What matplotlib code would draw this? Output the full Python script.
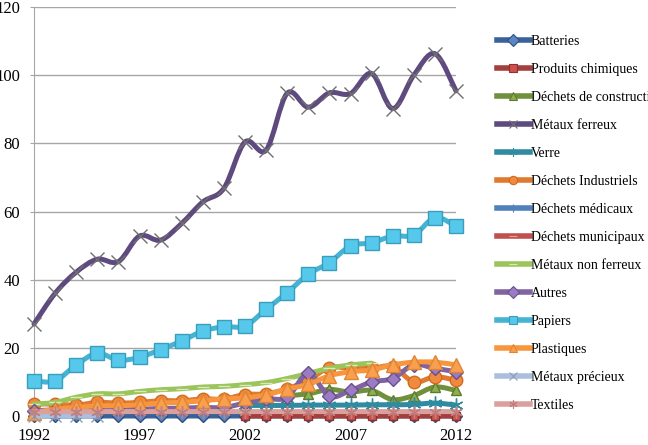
import numpy as np
import matplotlib.pyplot as plt
from matplotlib.path import Path
from matplotlib.patches import PathPatch
from matplotlib.lines import Line2D

plt.rcParams['font.family'] = ['Liberation Serif', 'DejaVu Serif']

years = [1992, 1993, 1994, 1995, 1996, 1997, 1998, 1999, 2000, 2001, 2002,
         2003, 2004, 2005, 2006, 2007, 2008, 2009, 2010, 2011, 2012]
N = None

batteries = [0, 0, 0, 0, 0, 0, 0, 0, 0, 0, 0, 0, 0, 0, 0, 0, 0, 0, 0, 0, 0]
produits_chimiques = [N, N, N, N, N, N, N, N, N, N, 0, 0, 0, 0, 0, 0, 0, 0, 0, 0, 0]
dechets_construction = [N, N, N, N, N, N, N, N, N, N, N, N, 6, 6.5, 7.8, 7, 7.5, 4.8, 6, 8.5, 7.5]
metaux_ferreux = [27, 36, 42.2, 46, 45.3, 52.8, 51.6, 56.5, 62.8, 66.8, 80.4,
                  78, 94.7, 90.6, 94.8, 94.6, 100.5, 90.2, 100, 106.3, 95.4]
verre = [N, N, N, N, N, N, N, N, N, N, 3.1, 3.1, 3.1, 3.2, 3.2, 3.2, 3.3, 3.3, 3.4, 3.8, 3.2]
dechets_industriels = [3.5, 3.5, 3.2, 4, 3.8, 4, 4.5, 4.5, 5, 5, 6.3,
                       6.5, 8, 10.5, 14.2, 14, 14, 14.5, 10, 11.5, 10.5]
dechets_medicaux = [N] * 21
dechets_municipaux = [N] * 21
metaux_non_ferreux = [3.5, 4, 5.5, 6.5, 6.5, 7.2, 7.7, 8, 8.5, 8.7, 9.2,
                      9.8, 11, 12.5, 14, 15, 15.5, N, N, N, N]
autres = [1.5, 1.8, 1.8, 2, 2, 2, 2.2, 2.3, 2.5, 2.5, 3.8,
          5, 5.5, 12.5, 5.8, 7.5, 10, 11, 15, 14, 13]
papiers = [10.3, 10.3, 15, 18.4, 16.4, 17.2, 19.5, 22, 24.9, 26.2, 26.4,
           31.3, 36.2, 41.6, 45, 49.9, 50.8, 52.8, 53.1, 58.2, 55.7]
plastiques = [1, 2, 2.5, 3, 3, 3.3, 3.8, 4, 4.5, 5, 5.3,
              6.2, 7.9, 9.3, 11.8, 13, 13.5, 15, 15.8, 15.8, 15]
metaux_precieux = [0, 0, 0, 0, N, N, N, N, N, N, N, N, N, N, N, N, N, N, N, N, N]
textiles = [1.3, 1.3, 1.3, 1.3, 1.3, 1.3, 1.3, 1.3, 1.3, 1.3, 1.3,
            1.3, 1.3, 1.3, 1.3, 1.3, 1.3, 1.3, 1.3, 1.3, 1.3]

labels = ['Batteries', 'Produits chimiques', 'Déchets de construction', 'Métaux ferreux',
          'Verre', 'Déchets Industriels', 'Déchets médicaux', 'Déchets municipaux',
          'Métaux non ferreux', 'Autres', 'Papiers', 'Plastiques', 'Métaux précieux', 'Textiles']
series = [batteries, produits_chimiques, dechets_construction, metaux_ferreux, verre,
          dechets_industriels, dechets_medicaux, dechets_municipaux, metaux_non_ferreux,
          autres, papiers, plastiques, metaux_precieux, textiles]

asterisk = (6, 2, 0)
# (line colour, marker, marker face, marker edge, marker size)
styles = [
    ('#3A6299', 'D', '#5B86C4', '#2E4F7E', 6),
    ('#A33F3C', 's', '#D0504D', '#8C3331', 6),
    ('#71903C', '^', '#8DB04C', '#5E7A30', 7),
    ('#5E4A7E', 'x', 'none', '#6F6F6F', 10),
    ('#2E8BA0', asterisk, 'none', '#2E8BA0', 10),
    ('#E07A2E', 'o', '#F08A3E', '#D06A20', 9),
    ('#4F81BD', '+', 'none', '#4F81BD', 8),
    ('#C0504D', '_', 'none', '#E8A09E', 8),
    ('#9BC45A', '_', 'none', '#D6EBB8', 8),
    ('#8064A2', 'D', '#9A7CC4', '#6A4F8A', 7),
    ('#45B3D3', 's', '#55C8EC', '#3A9DBB', 10),
    ('#F7963F', '^', '#F9A050', '#E08530', 10),
    ('#A9BFDD', 'x', 'none', '#8A9EBE', 8),
    ('#D9A09E', asterisk, 'none', '#C07E7C', 9),
]


def smooth_path(xs, ys):
    verts, codes = [], []
    seg = []
    runs = []
    for p in zip(xs, ys):
        if p[1] is None:
            if seg:
                runs.append(seg)
            seg = []
        else:
            seg.append(p)
    if seg:
        runs.append(seg)
    for run in runs:
        P = np.array(run, dtype=float)
        verts.append(tuple(P[0]))
        codes.append(Path.MOVETO)
        n = len(P)
        for i in range(n - 1):
            p0 = P[i - 1] if i > 0 else P[i]
            p1, p2 = P[i], P[i + 1]
            p3 = P[i + 2] if i + 2 < n else P[i + 1]
            c1 = p1 + (p2 - p0) / 6.0
            c2 = p2 - (p3 - p1) / 6.0
            verts += [tuple(c1), tuple(c2), tuple(p2)]
            codes += [Path.CURVE4] * 3
    if not verts:
        return None
    return Path(verts, codes)


fig = plt.figure(figsize=(6.48, 4.45), dpi=100)
ax = fig.add_axes([34 / 648, 29 / 445, 422 / 648, 409 / 445])

handles = []
for k, (vals, lab, st) in enumerate(zip(series, labels, styles)):
    col, mk, mfc, mec, ms = st
    path = smooth_path(years, vals)
    z = 3 + k
    if path is not None:
        ax.add_patch(PathPatch(path, facecolor='none', edgecolor=col, lw=3.6,
                               capstyle='round', joinstyle='round', zorder=z, clip_on=False))
        yv = [np.nan if v is None else v for v in vals]
        ax.plot(years, yv, linestyle='none', marker=mk, markersize=ms,
                markerfacecolor=mfc, markeredgecolor=mec, markeredgewidth=1.0,
                zorder=z + 0.5, clip_on=False)
    handles.append(Line2D([], [], color=col, lw=4, marker=mk, markersize=6,
                          markerfacecolor=mfc, markeredgecolor=mec, markeredgewidth=0.8))

ax.set_xlim(1992, 2012)
ax.set_ylim(0, 120)
ax.set_yticks([0, 20, 40, 60, 80, 100, 120])
ax.set_xticks([1992, 1997, 2002, 2007, 2012])
ax.yaxis.grid(True, color='#A6A6A6', lw=1.0)
ax.set_axisbelow(True)
for s in ['top', 'right', 'bottom']:
    ax.spines[s].set_visible(False)
ax.spines['left'].set_color('#A6A6A6')
ax.tick_params(axis='y', length=3, color='#A6A6A6', labelsize=12, pad=7)
ax.tick_params(axis='x', length=0, labelsize=12, pad=9)

fig.legend(handles, labels, loc='upper left', bbox_to_anchor=(497 / 648, 1 - 35 / 445),
           frameon=False, fontsize=10, handlelength=2.37, handletextpad=0.07,
           labelspacing=1.08, borderpad=0, borderaxespad=0)

fig.savefig('out.png', dpi=100)
